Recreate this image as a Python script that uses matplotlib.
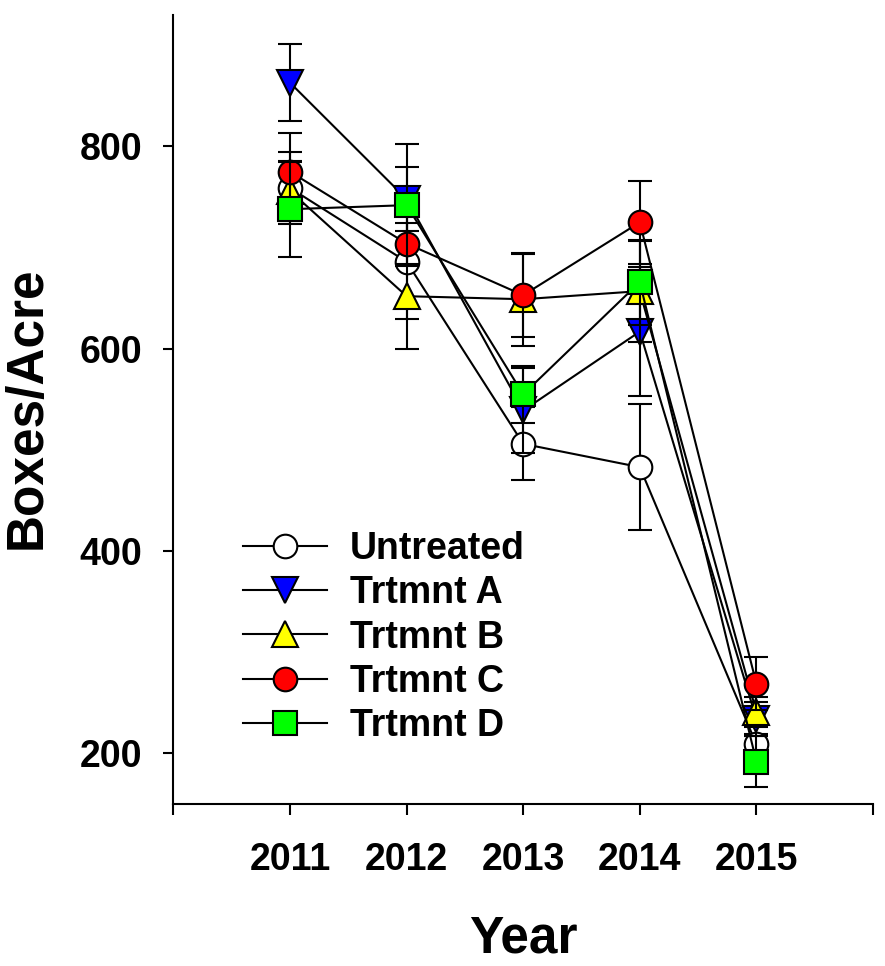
import matplotlib
matplotlib.use('Agg')
import matplotlib.pyplot as plt

plt.rcParams['font.family'] = ['Liberation Sans', 'DejaVu Sans']
plt.rcParams['font.weight'] = 'bold'

# Yields per year (boxes per acre) with standard errors
years = [2011, 2012, 2013, 2014, 2015]
labels = ['Untreated', 'Trtmnt A', 'Trtmnt B', 'Trtmnt C', 'Trtmnt D']

untreated = [759, 686, 506, 483, 209]
untreated_err = [36, 57, 36, 62, 10]
trt_a = [863, 748, 539, 617, 234]
trt_a_err = [38, 32, 42, 64, 17]
trt_b = [756, 652, 649, 657, 241]
trt_b_err = [30, 52, 46, 50, 15]
trt_c = [775, 704, 653, 725, 269]
trt_c_err = [38, 20, 41, 41, 26]
trt_d = [738, 742, 555, 666, 192]
trt_d_err = [47, 60, 28, 42, 25]

series = [untreated, trt_a, trt_b, trt_c, trt_d]
errors = [untreated_err, trt_a_err, trt_b_err, trt_c_err, trt_d_err]
markers = ['o', 'v', '^', 'o', 's']
sizes = [17, 19, 19, 17, 17]
colors = ['white', '#0000ff', '#ffff00', '#ff0000', '#00ff00']

fig = plt.figure(figsize=(8.85, 9.66), dpi=100)
ax = fig.add_axes([0.196, 0.1677, 0.7904, 0.8168])

handles = []
for i in range(len(series)):
    eb = ax.errorbar(years, series[i], yerr=errors[i], color='black', lw=1.5,
                     marker=markers[i], markersize=sizes[i], markerfacecolor=colors[i],
                     markeredgecolor='black', markeredgewidth=1.5,
                     elinewidth=1.5, capsize=8.5, capthick=1.5,
                     label=labels[i], zorder=2 + i)
    # only the line + marker goes into the legend, no error bars
    handles.append(eb[0])

ax.set_xlim(2010, 2016)
ax.set_ylim(150, 930)
ax.set_xticks([2010, 2011, 2012, 2013, 2014, 2015, 2016])
ax.set_xticklabels(['', '2011', '2012', '2013', '2014', '2015', ''])
ax.set_yticks([200, 400, 600, 800])

for side in ['top', 'right']:
    ax.spines[side].set_visible(False)
for side in ['left', 'bottom']:
    ax.spines[side].set_linewidth(1.5)

ax.tick_params(axis='x', direction='out', length=8, width=1.5, pad=19.5, labelsize=27)
ax.tick_params(axis='y', direction='out', length=7.5, width=1.5, pad=15, labelsize=27)
for t in ax.get_xticklabels() + ax.get_yticklabels():
    t.set_fontweight('bold')

fig.text(0.031, 0.578, 'Boxes/Acre', rotation=90, ha='center', va='center',
         fontsize=37, fontweight='bold')
fig.text(0.591, 0.0135, 'Year', ha='center', va='baseline',
         fontsize=37, fontweight='bold')

ax.legend(handles, labels, loc='upper left', bbox_to_anchor=(243 / 885, 1 - 531 / 966),
          bbox_transform=fig.transFigure, frameon=False,
          handlelength=2.25, handletextpad=0.6, labelspacing=0.22,
          borderpad=0, borderaxespad=0, prop={'weight': 'bold', 'size': 27})

fig.savefig('out.png', dpi=100)
